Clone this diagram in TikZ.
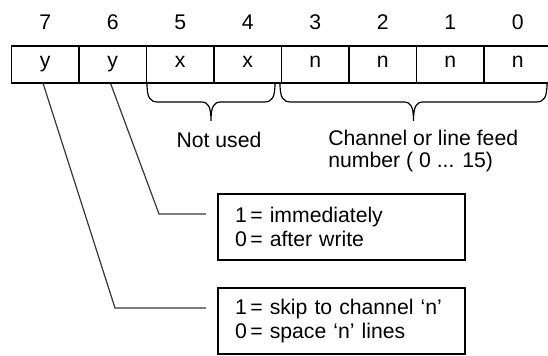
\documentclass[tikz,border=0pt]{standalone}
\usepackage{fontspec}
\setmainfont{Liberation Sans}
\usetikzlibrary{calc,positioning}
\definecolor{linegray}{RGB}{55,55,55}
\tikzset{
  cell/.style={draw, line width=0.9pt, minimum width=33.75pt, minimum height=18.5pt,
    inner sep=0pt, text height=5.5pt, text depth=2.5pt},
  bitnum/.style={inner sep=0pt},
  infobox/.style={draw, line width=0.9pt, minimum width=123.5pt, minimum height=33pt,
    text width=106.5pt, inner xsep=8.5pt, align=left},
  leader/.style={draw=linegray, line width=0.6pt},
  bracket/.style={line width=0.6pt},
}
% brace under the cells, from x=#1 to x=#2, tip in the middle
\newcommand{\bitbrace}[2]{%
  \draw[bracket] (#1,83) .. controls (#1,98) and ({#1+3},102) .. ({#1+11},102)
    -- ({(#1+#2)/2-10},102) .. controls ({(#1+#2)/2-3},102) and ({(#1+#2)/2},106) .. ({(#1+#2)/2},121)
    .. controls ({(#1+#2)/2},106) and ({(#1+#2)/2+3},102) .. ({(#1+#2)/2+10},102)
    -- ({#2-11},102) .. controls ({#2-3},102) and (#2,98) .. (#2,83);}

\begin{document}
\begin{tikzpicture}[x=0.5pt, y=-0.5pt, font=\fontsize{10.6}{11}\selectfont]
  \useasboundingbox (0,0) rectangle (548,356);
  \clip (0,0) rectangle (548,356);

  % Bit cells, numbered 7 ... 0
  \foreach \bit/\val [count=\i from 0] in {7/y,6/y,5/x,4/x,3/n,2/n,1/n,0/n}{
    \node[cell] (c\bit) at ({45.25+67.5*\i},64.5) {\val};
    \node[bitnum] (b\bit) at ({45.25+67.5*\i},22) {\bit};
  }

  % Braces and their labels
  \bitbrace{147}{275}
  \bitbrace{280}{547}
  \node[inner sep=0pt] (unused) at (219,140) {Not used};
  \node[inner sep=0pt, align=left, anchor=west] (chan) at (328,151)
    {Channel or line feed\\number ( 0 ... 15)};

  % Meaning of bits 6 and 7
  \node[infobox] (imm) at (341.5,227) {1\,=\,\,immediately\\[1pt]0\,=\,\,after write};
  \node[infobox] (skip) at (341.5,321) {1\,=\,\,skip to channel `n'\\[1pt]0\,=\,\,space `n' lines};

  % Leader lines
  \coordinate (k6) at (159,214);
  \coordinate (e6) at ($(imm.west)+(-11,-13)$);
  \coordinate (k7) at (115,308);
  \coordinate (e7) at ($(skip.west)+(-11,-13)$);
  \draw[leader] ([xshift=-1pt]c6.south) -- (k6) -- (e6);
  \draw[leader] ([xshift=-1pt]c7.south) -- (k7) -- (e7);
\end{tikzpicture}
\end{document}
